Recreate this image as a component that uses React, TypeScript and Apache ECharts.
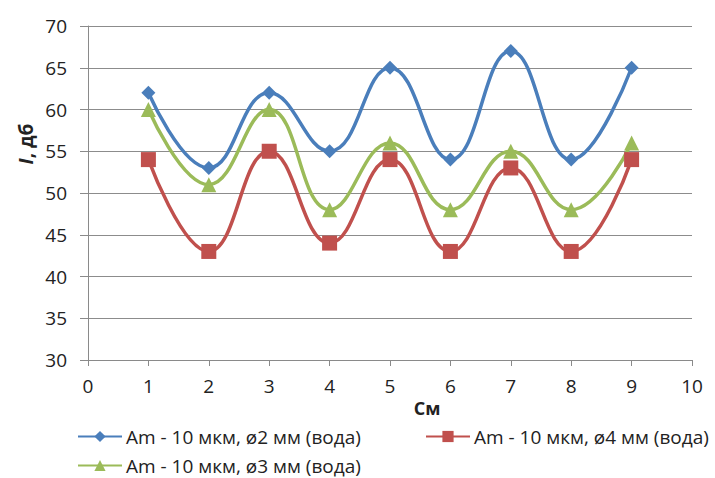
import React, { useEffect, useRef } from "react";
import * as echarts from "echarts";

const xValues = [1, 2, 3, 4, 5, 6, 7, 8, 9];
const blueValues = [62, 53, 62, 55, 65, 54, 67, 54, 65];
const redValues = [54, 43, 55, 44, 54, 43, 53, 43, 54];
const greenValues = [60, 51, 60, 48, 56, 48, 55, 48, 56];
const seriesNames = [
  "Am - 10 мкм, ø2 мм (вода)",
  "Am - 10 мкм, ø4 мм (вода)",
  "Am - 10 мкм, ø3 мм (вода)",
];
const xAxisTitle = "См";
const yAxisTitle = "{i|I}, дб";

const FONT = "Open Sans";

export default function App() {
  const ref = useRef<HTMLDivElement>(null);
  useEffect(() => {
    if (!ref.current) return;
    const chart = echarts.init(ref.current, undefined, { renderer: "svg" });
    const pairs = (ys: number[]) => xValues.map((x, i) => [x, ys[i]]);
    const mk = (name: string, ys: number[], color: string, symbol: string, size: number) => ({
      name,
      type: "line",
      data: pairs(ys),
      smooth: 0.45,
      symbol,
      symbolSize: size,
      lineStyle: { color, width: 3.5 },
      itemStyle: { color },
      z: 3,
    });
    const legendBase = {
      itemWidth: 44,
      itemHeight: 14,
      itemGap: 4,
      padding: 0,
      textStyle: { fontFamily: FONT, fontSize: 19, color: "#222", padding: [0, 0, 0, -1] },
    };
    chart.setOption({
      animation: false,
      backgroundColor: "#fff",
      grid: { left: 88, right: 23, top: 26, bottom: 118 },
      xAxis: {
        type: "value",
        min: 0,
        max: 10,
        interval: 1,
        axisLine: { show: true, lineStyle: { color: "#8a8a8a", width: 1 } },
        axisTick: { show: true, length: 6, lineStyle: { color: "#8a8a8a" } },
        axisLabel: { fontFamily: FONT, fontSize: 19, color: "#222", margin: 16 },
        splitLine: { show: false },
      },
      yAxis: {
        type: "value",
        min: 30,
        max: 70,
        interval: 5,
        axisLine: { show: true, lineStyle: { color: "#8a8a8a", width: 1 } },
        axisTick: { show: true, length: 8, lineStyle: { color: "#8a8a8a" } },
        axisLabel: { fontFamily: FONT, fontSize: 19, color: "#222", margin: 21 },
        splitLine: { show: true, lineStyle: { color: "#8c8c8c", width: 1 } },
      },
      legend: [
        { ...legendBase, left: 77, top: 427, data: [seriesNames[0]] },
        { ...legendBase, left: 425, top: 427, data: [seriesNames[1]] },
        { ...legendBase, left: 77, top: 456, data: [seriesNames[2]] },
      ],
      graphic: [
        {
          type: "text",
          x: 427,
          y: 408,
          style: {
            text: xAxisTitle,
            fontFamily: FONT,
            fontSize: 18,
            fontWeight: "bold",
            fill: "#222",
            align: "center",
            verticalAlign: "middle",
          },
        },
        {
          type: "text",
          x: 26,
          y: 144,
          rotation: Math.PI / 2,
          style: {
            text: yAxisTitle,
            fontFamily: FONT,
            fontSize: 19,
            fontWeight: "bold",
            fill: "#222",
            align: "center",
            verticalAlign: "middle",
            rich: {
              i: { fontStyle: "italic", fontWeight: "bold", fontFamily: FONT, fontSize: 19, fill: "#222" },
            },
          },
        },
      ],
      series: [
        mk(seriesNames[0], blueValues, "#4a7ebb", "diamond", 14),
        mk(seriesNames[1], redValues, "#c0504d", "rect", 15),
        mk(seriesNames[2], greenValues, "#9bbb59", "triangle", 15),
      ],
    });
    return () => chart.dispose();
  }, []);
  return (
    <div
      ref={ref}
      style={{ position: "fixed", left: 0, top: 0, width: 715, height: 478 }}
    />
  );
}
